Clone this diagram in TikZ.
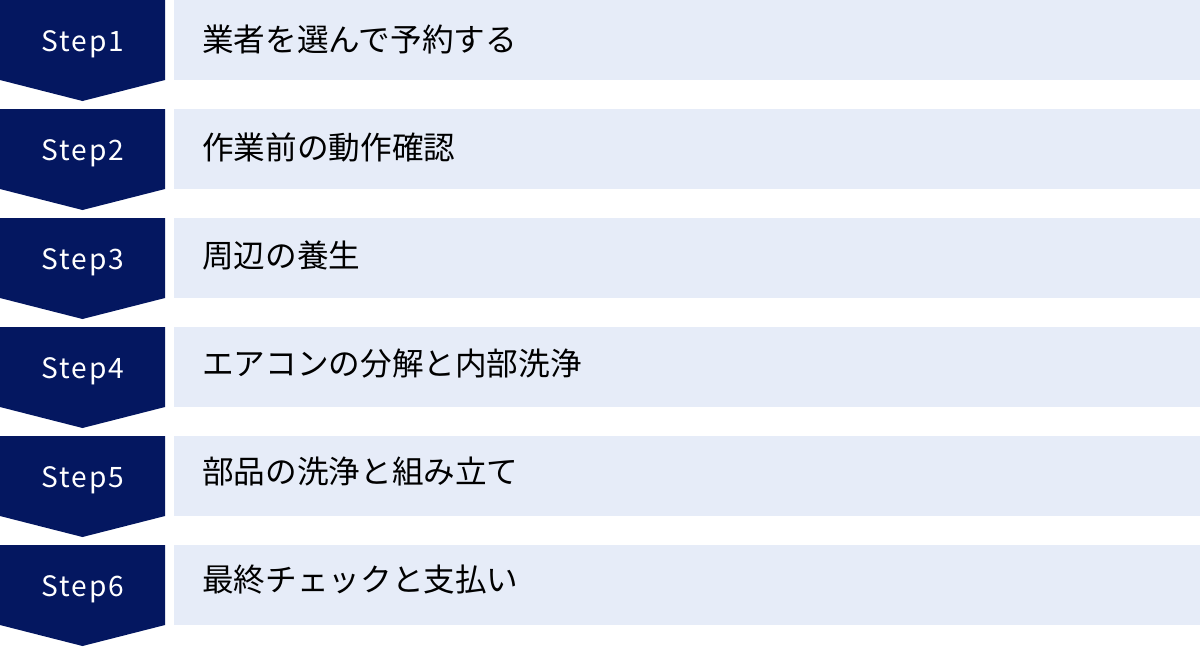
\documentclass[tikz,border=0pt]{standalone}
\usepackage{fontspec}
\setmainfont{Noto Sans CJK JP}
\newfontfamily\stepfont[LetterSpace=7]{Noto Sans CJK JP}
\definecolor{stepnavy}{HTML}{041760}
\definecolor{itemblue}{HTML}{E6ECF8}

\begin{document}
\begin{tikzpicture}[x=0.02cm,y=-0.02cm,
  stepshape/.style={fill=stepnavy},
  steplabel/.style={anchor=base,text=white,inner sep=0pt,font=\stepfont\fontsize{16}{19}\selectfont},
  itembox/.style={fill=itemblue},
  itemlabel/.style={anchor=base west,inner sep=0pt,font=\fontsize{18}{22}\selectfont}]
  \useasboundingbox (0,0) rectangle (1200,647);
  \foreach \i/\txt in {1/業者を選んで予約する,2/作業前の動作確認,3/周辺の養生,
      4/エアコンの分解と内部洗浄,5/部品の洗浄と組み立て,6/最終チェックと支払い}{
    \pgfmathsetmacro\rowy{109*(\i-1)}
    \pgfmathsetmacro\texty{108*(\i-1)+51.5}
    \fill[stepshape] (0,\rowy) -- ++(165,0) -- ++(0,80) -- ++(-82.5,21) -- ++(-82.5,-21) -- cycle;
    \fill[itembox] (174,\rowy) rectangle ++(1026,80);
    \node[steplabel] (step\i) at (83,\rowy+51) {Step\i};
    \node[itemlabel] (item\i) at (202,\texty) {\txt};
  }
\end{tikzpicture}
\end{document}
